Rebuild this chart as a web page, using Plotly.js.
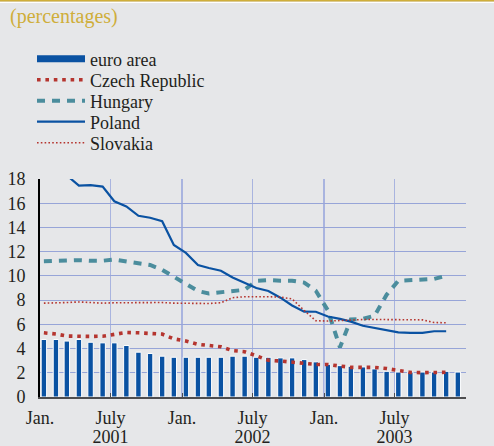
<!DOCTYPE html>
<html><head><meta charset="utf-8">
<script src="https://cdn.plot.ly/plotly-3.0.1.min.js"></script>
<style>html,body{margin:0;padding:0;background:#e6e7e9;}</style>
</head><body><div id="chart" style="width:494px;height:446px;"></div>
<script>
const months = ['2001-01','2001-02','2001-03','2001-04','2001-05','2001-06','2001-07','2001-08','2001-09','2001-10','2001-11','2001-12',
  '2002-01','2002-02','2002-03','2002-04','2002-05','2002-06','2002-07','2002-08','2002-09','2002-10','2002-11','2002-12',
  '2003-01','2003-02','2003-03','2003-04','2003-05','2003-06','2003-07','2003-08','2003-09','2003-10','2003-11','2003-12'];
const euroArea = [4.75,4.75,4.62,4.75,4.52,4.47,4.47,4.25,3.70,3.59,3.37,3.28,
  3.28,3.28,3.28,3.28,3.37,3.37,3.28,3.28,3.23,3.23,3.09,2.90,
  2.70,2.59,2.54,2.48,2.32,2.12,2.06,2.06,2.06,2.06,2.12,2.06];
const czechRepublic = [5.30,5.20,5.03,5.00,5.00,5.02,5.17,5.33,5.30,5.26,5.19,4.80,
  4.62,4.35,4.26,4.15,3.83,3.74,3.40,3.03,2.97,2.88,2.74,2.69,
  2.68,2.52,2.45,2.45,2.44,2.35,2.20,2.03,2.01,2.01,2.04];
const hungary = [11.20,11.25,11.30,11.30,11.25,11.25,11.35,11.20,11.10,10.90,10.50,9.90,
  9.30,8.75,8.55,8.65,8.75,8.85,9.60,9.65,9.60,9.60,9.45,8.77,
  7.15,4.10,6.40,6.45,6.71,8.45,9.60,9.64,9.64,9.75,10.00];
const poland = [19.20,18.90,18.30,17.45,17.50,17.37,16.16,15.74,14.96,14.80,14.52,12.56,
  11.90,10.90,10.65,10.42,9.87,9.40,9.00,8.75,8.20,7.56,7.05,7.04,
  6.65,6.45,6.22,5.88,5.68,5.52,5.33,5.30,5.30,5.43,5.43];
const slovakia = [7.75,7.75,7.80,7.85,7.80,7.75,7.78,7.80,7.82,7.80,7.80,7.75,
  7.72,7.70,7.72,7.78,8.20,8.28,8.30,8.28,8.25,8.10,7.15,6.30,
  6.27,6.32,6.38,6.40,6.40,6.40,6.40,6.40,6.37,6.15,6.13];
const seriesNames = ['euro area','Czech Republic','Hungary','Poland','Slovakia'];
const tickDates = ['2001-01-01','2001-07-01','2002-01-01','2002-07-01','2003-01-01','2003-07-01'];
const tickLabels = ['Jan.','July','Jan.','July','Jan.','July'];
const yearDates = ['2001-07-01','2002-07-01','2003-07-01'];
const yearLabels = ['2001','2002','2003'];
const yTicks = [0,2,4,6,8,10,12,14,16,18];

const xPos = months.map(m => m + '-11');
const BLUE = '#0a52a2', RED = '#b5352f', TEAL = '#4b8d9d', GOLD = '#cfae3a';
const FONT = 'Liberation Serif, Times New Roman, serif';
const TXT = '#231f20';

const traces = [
  {type:'bar', x:xPos, y:euroArea, name:seriesNames[0], showlegend:false,
   width:1000*3600*24*14, marker:{color:BLUE, line:{color:'#ffffff', width:1}}},
  {type:'scatter', mode:'lines', x:[null], y:[null], name:seriesNames[0], legend:'legend',
   line:{color:BLUE, width:7}},
  {type:'scatter', mode:'lines', x:xPos.slice(0, czechRepublic.length), y:czechRepublic, name:seriesNames[1], legend:'legend2',
   line:{color:RED, width:3.6, dash:'3.6px,4.8px'}},
  {type:'scatter', mode:'lines', x:xPos.slice(0, hungary.length), y:hungary, name:seriesNames[2], legend:'legend3',
   line:{color:TEAL, width:4, dash:'8px,7px'}},
  {type:'scatter', mode:'lines', x:xPos.slice(0, poland.length), y:poland, name:seriesNames[3], legend:'legend4',
   line:{color:BLUE, width:2.2}},
  {type:'scatter', mode:'lines', x:xPos.slice(0, slovakia.length), y:slovakia, name:seriesNames[4], legend:'legend5',
   line:{color:RED, width:1.6, dash:'1.6px,2.2px'}},
  {type:'scatter', mode:'lines', x:[null], y:[null], xaxis:'x2', yaxis:'y', showlegend:false, hoverinfo:'skip'}
];

function legendAt(rowY) {
  return {xref:'container', yref:'container', x:32/494, y:1-rowY/446, xanchor:'left', yanchor:'middle',
    bgcolor:'rgba(0,0,0,0)', borderwidth:0, font:{family:FONT, size:18, color:TXT}, itemwidth:48};
}

const layout = {
  width:494, height:446,
  paper_bgcolor:'#e6e7e9', plot_bgcolor:'#e6e7e9',
  margin:{l:40, r:28, t:179, b:49, pad:0, autoexpand:false},
  font:{family:FONT, size:18, color:TXT},
  title:{text:'(percentages)', font:{family:FONT, size:20, color:GOLD},
    xref:'container', x:10/494, xanchor:'left', yref:'container', y:1-16/446, yanchor:'middle'},
  showlegend:true,
  legend:legendAt(59), legend2:legendAt(80), legend3:legendAt(101), legend4:legendAt(122), legend5:legendAt(143),
  bargap:0,
  xaxis:{type:'date', range:['2001-01-01','2004-01-01'], tickmode:'array', tickvals:tickDates, ticktext:tickLabels,
    showgrid:true, gridcolor:'#a9b4df', gridwidth:1.8, showline:true, linecolor:'#4d4d4f', linewidth:1.5,
    ticks:'inside', ticklen:4, tickcolor:'#4d4d4f', zeroline:false, ticklabelstandoff:4,
    tickfont:{family:FONT, size:18, color:TXT}},
  xaxis2:{type:'date', range:['2001-01-01','2004-01-01'], overlaying:'x', anchor:'y', side:'bottom',
    tickmode:'array', tickvals:yearDates, ticktext:yearLabels, showgrid:false, showline:false, ticks:'',
    zeroline:false, showticklabels:true, ticklabelstandoff:27, tickfont:{family:FONT, size:18, color:TXT}},
  yaxis:{range:[0,18], tickmode:'array', tickvals:yTicks, showgrid:true, gridcolor:'#97a5d8', gridwidth:1,
    showline:true, linecolor:'#000000', linewidth:2, zeroline:false, ticks:'', ticklabelstandoff:9,
    tickfont:{family:FONT, size:18, color:TXT}},
  yaxis2:{range:[0,18], overlaying:'y', side:'right', tickmode:'array', tickvals:yTicks, showgrid:false,
    showline:true, linecolor:'#4d4d4f', linewidth:2, zeroline:false, ticks:'', ticklabelstandoff:4,
    tickfont:{family:FONT, size:18, color:TXT}},
  shapes:[
    {type:'line', xref:'paper', yref:'paper', x0:-40/426, x1:1+28/426, y0:1+(179-0.8)/218, y1:1+(179-0.8)/218,
     line:{color:GOLD, width:1.6}},
    {type:'line', xref:'paper', yref:'paper', x0:-40/426, x1:1+28/426, y0:1+(179-2.5)/218, y1:1+(179-2.5)/218,
     line:{color:'#ffffff', width:1.2}}
  ]
};

Plotly.newPlot('chart', traces, layout, {staticPlot:true, displayModeBar:false});
</script></body></html>
